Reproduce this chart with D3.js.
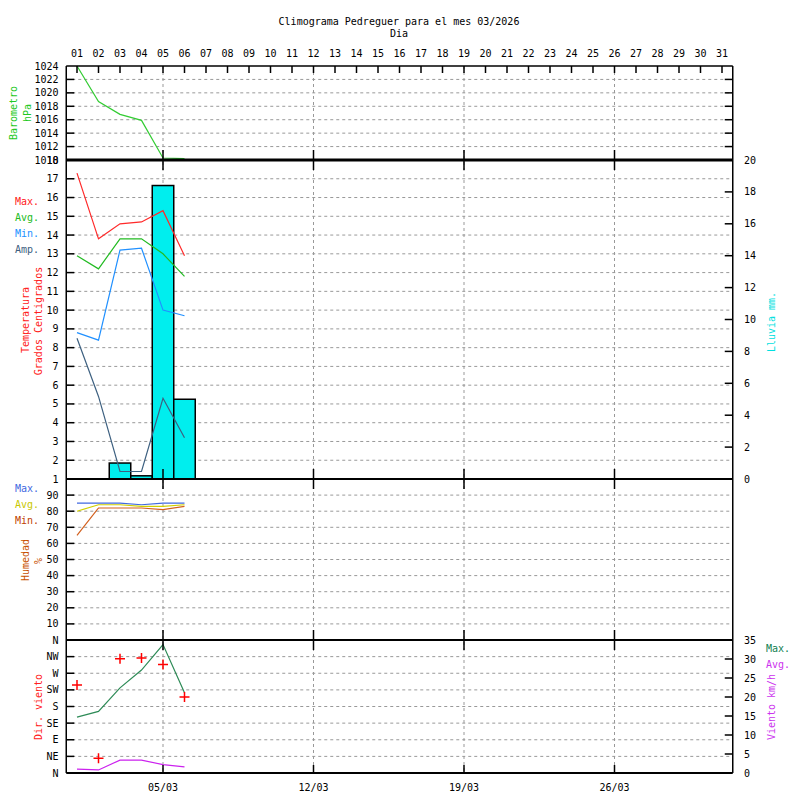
<!DOCTYPE html>
<html>
<head>
<meta charset="utf-8">
<script src="https://cdn.jsdelivr.net/npm/d3@7"></script>
<style>
  body { margin: 0; background: #fff; }
  svg { display: block; }
  text { font-family: "DejaVu Sans Mono", monospace; font-size: 10px; }
</style>
</head>
<body>
<svg id="chart" width="800" height="800"></svg>
<script>
// ---------- data ----------
const days = [1, 2, 3, 4, 5, 6];
const baro = [1024.0, 1018.7, 1016.8, 1015.9, 1010.3, 1010.2];

const tempMax = [17.3, 13.8, 14.6, 14.7, 15.3, 12.9];
const tempAvg = [12.9, 12.2, 13.8, 13.8, 13.0, 11.8];
const tempMin = [8.8, 8.4, 13.2, 13.3, 10.0, 9.7];
const tempAmp = [8.5, 5.4, 1.4, 1.4, 5.3, 3.2];
const rain = [0, 0, 1.0, 0.2, 18.4, 5.0];

const humMax = [85, 85, 85, 84, 85, 85];
const humAvg = [80, 84, 84, 83, 83, 84];
const humMin = [65, 82, 82, 82, 81, 83];

const windMax = [14.7, 16.2, 22.4, 27.1, 33.8, 21.1];
const windAvg = [1.0, 0.8, 3.4, 3.4, 2.2, 1.6];
const windDir = [238, 40, 309, 311, 294, 206];

const dayLabels = d3.range(1, 32).map(d => String(d).padStart(2, "0"));
const weekDays = [5, 12, 19, 26];
const weekLabels = ["05/03", "12/03", "19/03", "26/03"];
const baroTicks = [1010, 1012, 1014, 1016, 1018, 1020, 1022, 1024];
const tempTicks = d3.range(1, 19);
const rainTicks = d3.range(0, 21, 2);
const humTicks = d3.range(10, 100, 10);
const dirTicks = [0, 45, 90, 135, 180, 225, 270, 315, 360];
const dirLabels = ["N", "NE", "E", "SE", "S", "SW", "W", "NW", "N"];
const windTicks = [0, 5, 10, 15, 20, 25, 30, 35];

// ---------- layout ----------
const svg = d3.select("#chart");
const L = 66.25, R = 732.75, TOP = 66, B1 = 160, B2 = 479, B3 = 640, BOT = 773;

const x = d3.scaleLinear().domain([0.5, 31.5]).range([L, R]);
const yBaro = d3.scaleLinear().domain([1010, 1024]).range([B1, TOP]);
const yTemp = d3.scaleLinear().domain([1, 18]).range([B2, B1]);
const yRain = d3.scaleLinear().domain([0, 20]).range([B2, B1]);
const yHum = d3.scaleLinear().domain([0, 100]).range([B3, B2]);
const yDir = d3.scaleLinear().domain([0, 360]).range([BOT, B3]);
const yWind = d3.scaleLinear().domain([0, 35]).range([BOT, B3]);

const gridColor = "#999";
const grid = svg.append("g");
const marks = svg.append("g");
const axes = svg.append("g");
const anno = svg.append("g");

// ---------- grid ----------
function hGrid(vals, y) {
  grid.selectAll(null).data(vals).enter().append("line")
    .attr("x1", L).attr("x2", R)
    .attr("y1", d => y(d)).attr("y2", d => y(d))
    .attr("stroke", gridColor).attr("stroke-dasharray", "3,3");
}
hGrid(baroTicks.filter(v => v > 1010 && v < 1024), yBaro);
hGrid(tempTicks.filter(v => v > 1 && v < 18), yTemp);
hGrid(humTicks, yHum);
hGrid(dirTicks.filter(v => v > 0 && v < 360), yDir);

grid.selectAll(null).data(weekDays).enter().append("line")
  .attr("x1", d => x(d)).attr("x2", d => x(d))
  .attr("y1", TOP).attr("y2", BOT)
  .attr("stroke", gridColor).attr("stroke-dasharray", "3,3");

// ---------- marks ----------
const line = (vals, y) => d3.line().x((d, i) => x(days[i])).y(d => y(d))(vals);
function drawLine(vals, y, color) {
  marks.append("path").attr("d", line(vals, y))
    .attr("fill", "none").attr("stroke", color).attr("stroke-width", 1.2);
}

// rain bars
const bw = x(2) - x(1);
marks.selectAll("rect.rain")
  .data(days.map((d, i) => ({ d, v: rain[i] })).filter(o => o.v > 0))
  .enter().append("rect")
  .attr("class", "rain")
  .attr("x", o => x(o.d) - bw / 2)
  .attr("width", bw)
  .attr("y", o => yRain(o.v))
  .attr("height", o => yRain(0) - yRain(o.v))
  .attr("fill", "#00eeee")
  .attr("stroke", "#000").attr("stroke-width", 1.5);

drawLine(baro, yBaro, "#33cc33");

drawLine(tempMax, yTemp, "#ff2a2a");
drawLine(tempAvg, yTemp, "#22bb22");
drawLine(tempMin, yTemp, "#2090ff");
drawLine(tempAmp, yTemp, "#3d6080");

drawLine(humMax, yHum, "#4169e1");
drawLine(humAvg, yHum, "#d0d000");
drawLine(humMin, yHum, "#d2601e");

drawLine(windMax, yWind, "#2e8b57");
drawLine(windAvg, yWind, "#cc22ee");

// wind direction crosses
const cr = 5;
marks.selectAll("path.dir")
  .data(days.map((d, i) => ({ d, v: windDir[i] })))
  .enter().append("path")
  .attr("class", "dir")
  .attr("d", o => {
    const cx = x(o.d), cy = yDir(o.v);
    return `M${cx - cr},${cy}H${cx + cr}M${cx},${cy - cr}V${cy + cr}`;
  })
  .attr("stroke", "#ff0000").attr("stroke-width", 1.5);

// ---------- axes / frame ----------
const blk = (sel, w) => sel.attr("stroke", "#000").attr("stroke-width", w);

blk(axes.append("line").attr("x1", L).attr("x2", R).attr("y1", TOP).attr("y2", TOP), 1.5);
blk(axes.append("line").attr("x1", L).attr("x2", L).attr("y1", TOP).attr("y2", BOT), 1.5);
blk(axes.append("line").attr("x1", R).attr("x2", R).attr("y1", TOP).attr("y2", BOT), 1.5);
blk(axes.append("line").attr("x1", L).attr("x2", R).attr("y1", B1).attr("y2", B1), 3);
blk(axes.append("line").attr("x1", L).attr("x2", R).attr("y1", B2).attr("y2", B2), 2);
blk(axes.append("line").attr("x1", L).attr("x2", R).attr("y1", B3).attr("y2", B3), 2);
blk(axes.append("line").attr("x1", L).attr("x2", R).attr("y1", BOT).attr("y2", BOT), 2);

// day ticks on top
axes.selectAll(null).data(d3.range(1, 32)).enter().append("line")
  .attr("x1", d => x(d)).attr("x2", d => x(d))
  .attr("y1", TOP).attr("y2", TOP + 7)
  .call(blk, 1.5);

// week ticks across panel borders
for (const yb of [B1, B2, B3]) {
  axes.selectAll(null).data(weekDays).enter().append("line")
    .attr("x1", d => x(d)).attr("x2", d => x(d))
    .attr("y1", yb - 10).attr("y2", yb + 10)
    .call(blk, 1.5);
}
axes.selectAll(null).data(weekDays).enter().append("line")
  .attr("x1", d => x(d)).attr("x2", d => x(d))
  .attr("y1", BOT - 8).attr("y2", BOT)
  .call(blk, 1.5);

function leftTicks(vals, y) {
  axes.selectAll(null).data(vals).enter().append("line")
    .attr("x1", L).attr("x2", L + 8)
    .attr("y1", d => y(d)).attr("y2", d => y(d)).call(blk, 1.5);
}
function rightTicks(vals, y) {
  axes.selectAll(null).data(vals).enter().append("line")
    .attr("x1", R - 8).attr("x2", R)
    .attr("y1", d => y(d)).attr("y2", d => y(d)).call(blk, 1.5);
}
leftTicks(baroTicks.slice(1, -1), yBaro);
rightTicks(baroTicks.slice(1, -1), yBaro);
leftTicks(tempTicks.slice(1, -1), yTemp);
rightTicks(rainTicks.slice(1, -1), yRain);
leftTicks(humTicks, yHum);
leftTicks(dirTicks.slice(1, -1), yDir);
rightTicks(windTicks.slice(1, -1), yWind);

// tick labels
function leftLabels(vals, y, fmt) {
  anno.selectAll(null).data(vals).enter().append("text")
    .attr("x", 58.5).attr("y", d => y(d))
    .attr("text-anchor", "end").attr("dominant-baseline", "central")
    .text((d, i) => fmt ? fmt(d, i) : d);
}
function rightLabels(vals, y) {
  anno.selectAll(null).data(vals).enter().append("text")
    .attr("x", 744).attr("y", d => y(d))
    .attr("dominant-baseline", "central")
    .text(d => d);
}
leftLabels(baroTicks, yBaro);
leftLabels(tempTicks, yTemp);
leftLabels(humTicks, yHum);
leftLabels(dirTicks, yDir, (d, i) => dirLabels[i]);
rightLabels(rainTicks, yRain);
rightLabels(windTicks, yWind);

anno.selectAll(null).data(dayLabels).enter().append("text")
  .attr("x", (d, i) => x(i + 1)).attr("y", 53)
  .attr("text-anchor", "middle").attr("dominant-baseline", "central")
  .text(d => d);

anno.selectAll(null).data(weekLabels).enter().append("text")
  .attr("x", (d, i) => x(weekDays[i])).attr("y", 787)
  .attr("text-anchor", "middle").attr("dominant-baseline", "central")
  .text(d => d);

// ---------- titles / legends ----------
anno.append("text").attr("x", 399).attr("y", 21.5)
  .attr("text-anchor", "middle").attr("dominant-baseline", "central")
  .text("Climograma Pedreguer para el mes 03/2026");
anno.append("text").attr("x", 399).attr("y", 33.5)
  .attr("text-anchor", "middle").attr("dominant-baseline", "central")
  .text("Dia");

function vText(cx, cy, txt, color) {
  anno.append("text")
    .attr("transform", `translate(${cx},${cy}) rotate(-90)`)
    .attr("text-anchor", "middle").attr("dominant-baseline", "central")
    .attr("fill", color).text(txt);
}
vText(13.5, 113, "Barometro", "#22c822");
vText(27, 113, "hPa", "#22c822");
vText(25, 320, "Temperatura", "#ff2020");
vText(38.5, 321, "Grados Centigrados", "#ff2020");
vText(25, 560, "Humedad", "#c85000");
vText(38.5, 561, "%", "#c85000");
vText(38.5, 707, "Dir. viento", "#ff2020");
vText(771, 322, "Lluvia mm.", "#00e0e0");
vText(771, 707, "Viento km/h", "#cc33ee");

function legend(items, x0, y0, step) {
  anno.selectAll(null).data(items).enter().append("text")
    .attr("x", x0).attr("y", (d, i) => y0 + i * step)
    .attr("dominant-baseline", "central")
    .attr("fill", d => d[1]).text(d => d[0]);
}
legend([["Max.", "#ff2020"], ["Avg.", "#22bb22"], ["Min.", "#2090ff"], ["Amp.", "#3d6080"]], 15, 201.5, 16);
legend([["Max.", "#4169e1"], ["Avg.", "#c8c800"], ["Min.", "#c04000"]], 15, 488.5, 16);
legend([["Max.", "#108050"], ["Avg.", "#cc33ee"]], 766, 648.5, 16);
</script>
</body>
</html>
